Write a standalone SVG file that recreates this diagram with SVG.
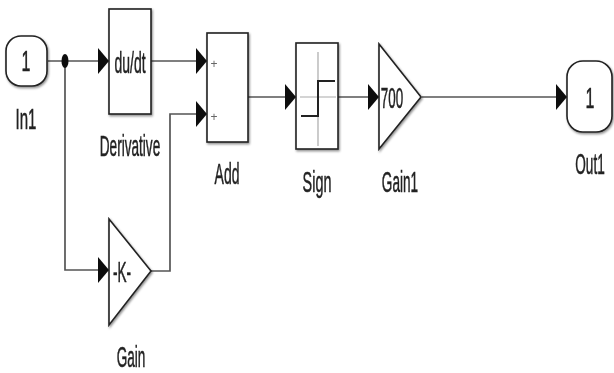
<svg xmlns="http://www.w3.org/2000/svg" width="614" height="373" viewBox="0 0 614 373">
<defs>
<marker id="ah" markerUnits="userSpaceOnUse" markerWidth="12" markerHeight="28" refX="11" refY="14" orient="auto"><path d="M0 1 L11 14 L0 27 Z" fill="#111"/></marker>
<filter id="b" x="-10%" y="-10%" width="120%" height="120%"><feGaussianBlur stdDeviation="0.5"/></filter>
<filter id="s" x="-10%" y="-10%" width="125%" height="125%"><feDropShadow dx="1" dy="1.5" stdDeviation="0.9" flood-color="#000" flood-opacity="0.45"/></filter>
</defs>
<style>
text{font-family:"Liberation Sans",Arial,sans-serif;font-size:20px;fill:#222;stroke:#222;stroke-width:.35;text-anchor:middle}
.n{fill:#fff;stroke:#222;stroke-width:1.6;filter:url(#s)}
.c{fill:none;stroke:#555;stroke-width:1.7}
text.p{font-size:12px;fill:#666;stroke:none}
</style>
<rect width="614" height="373" fill="#fff"/>
<g id="connectors" filter="url(#b)">
<path class="c" marker-end="url(#ah)" d="M48 61 H109"/>
<path class="c" marker-end="url(#ah)" d="M65 61 V270 H109"/>
<path class="c" marker-end="url(#ah)" d="M151 61 H207"/>
<path class="c" marker-end="url(#ah)" d="M151 271 H170 V114 H207"/>
<path class="c" marker-end="url(#ah)" d="M248 97 H296"/>
<path class="c" marker-end="url(#ah)" d="M338 97 H379"/>
<path class="c" marker-end="url(#ah)" d="M422 97 H567"/>
<ellipse cx="65" cy="61" rx="3.500" ry="7" fill="#111"/>
</g>
<g id="In1" filter="url(#b)">
<rect class="n" x="6" y="36" width="41" height="50" rx="15" ry="15"/>
<text transform="translate(26 71) scale(.8 1.5)">1</text>
<text transform="translate(26 129) scale(.75 1.5)">In1</text>
</g>
<g id="Derivative" filter="url(#b)">
<rect class="n" x="109" y="9" width="42" height="105"/>
<text transform="translate(130 73) scale(.7 1.5)">du/dt</text>
<text transform="translate(130 156) scale(.68 1.5)">Derivative</text>
</g>
<g id="Add" filter="url(#b)">
<rect class="n" x="207" y="33" width="41" height="109"/>
<text class="p" x="214" y="68">+</text>
<text class="p" x="214" y="121">+</text>
<text transform="translate(227 184) scale(.7 1.5)">Add</text>
</g>
<g id="Sign" filter="url(#b)">
<rect class="n" x="296" y="43" width="42" height="106"/>
<path d="M318 52 V146 M300 97 H336" fill="none" stroke="#aaa" stroke-width="1.2"/>
<path d="M301 116 H318 V81 H335" fill="none" stroke="#222" stroke-width="2"/>
<text transform="translate(317 192) scale(.72 1.5)">Sign</text>
</g>
<g id="Gain1" filter="url(#b)">
<path class="n" d="M379 44 L421 97 L379 149 Z"/>
<text transform="translate(392 108) scale(.67 1.5)">700</text>
<text transform="translate(400 192) scale(.68 1.5)">Gain1</text>
</g>
<g id="Out1" filter="url(#b)">
<rect class="n" x="567" y="61" width="45" height="71" rx="16" ry="16"/>
<text transform="translate(590 108) scale(.8 1.5)">1</text>
<text transform="translate(590 174) scale(.68 1.5)">Out1</text>
</g>
<g id="Gain" filter="url(#b)">
<path class="n" d="M109 219 L151 271 L109 325 Z"/>
<text transform="translate(122 282) scale(.68 1.5)">-K-</text>
<text transform="translate(131 367) scale(.68 1.5)">Gain</text>
</g>
</svg>
